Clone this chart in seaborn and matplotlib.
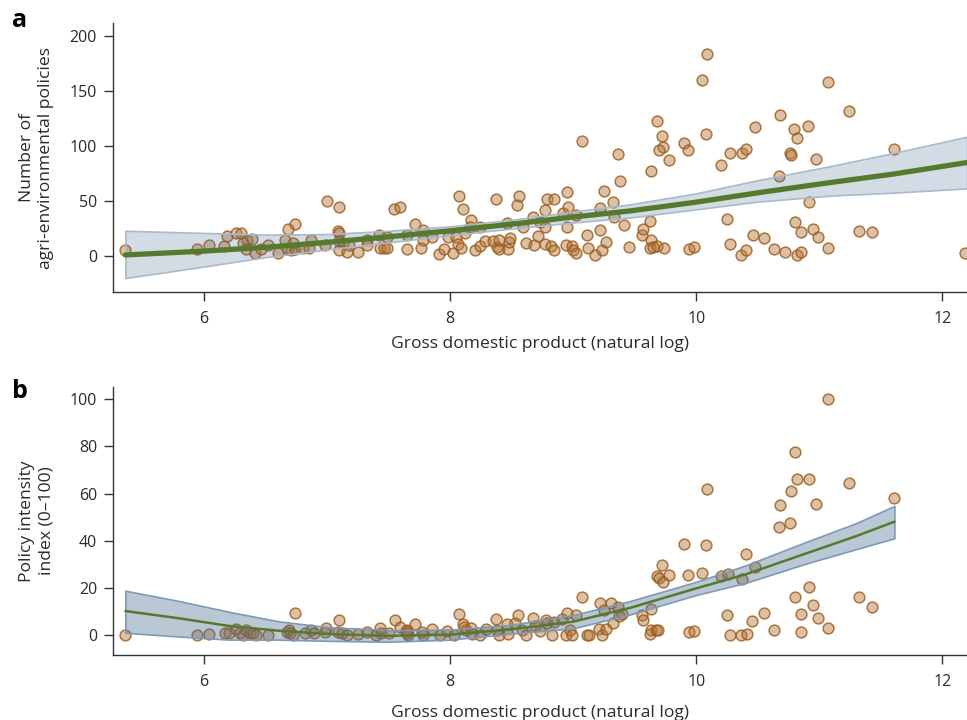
import numpy as np
import pandas as pd
import matplotlib
matplotlib.use("Agg")
import matplotlib.pyplot as plt
import seaborn as sns

# ---------------- data ----------------
a_gdp = [5.36, 5.94, 6.04, 6.16, 6.19, 6.26, 6.30, 6.32, 6.35, 6.39, 6.34, 6.41, 6.46, 6.52, 6.60,
         6.66, 6.68, 6.74, 6.68, 6.71, 6.72, 6.74, 6.80, 6.85, 6.87, 6.98, 7.00, 7.10, 7.09, 7.10,
         7.10, 7.13, 7.10, 7.16, 7.18, 7.25, 7.32, 7.32, 7.42, 7.43, 7.46, 7.49, 7.49, 7.54, 7.59,
         7.65, 7.65, 7.71, 7.76, 7.78, 7.78, 7.85, 7.91, 7.95, 7.98, 8.02, 8.05, 8.06, 8.07, 8.10,
         8.09, 8.12, 8.17, 8.16, 8.20, 8.24, 8.24, 8.28, 8.35, 8.37, 8.38, 8.40, 8.40, 8.46, 8.47,
         8.48, 8.49, 8.54, 8.56, 8.59, 8.62, 8.67, 8.68, 8.71, 8.73, 8.77, 8.77, 8.77, 8.79, 8.84,
         8.82, 8.84, 8.92, 8.95, 8.96, 8.95, 8.94, 8.99, 9.00, 9.02, 9.02, 9.07, 9.11, 9.12, 9.18,
         9.22, 9.22, 9.23, 9.25, 9.27, 9.32, 9.33, 9.36, 9.38, 9.41, 9.45, 9.56, 9.57, 9.62, 9.63,
         9.63, 9.62, 9.65, 9.68, 9.74, 9.68, 9.72, 9.73, 9.70, 9.78, 9.90, 9.93, 9.94, 9.98, 10.05,
         10.09, 10.08, 10.20, 10.27, 10.25, 10.27, 10.36, 10.37, 10.40, 10.40, 10.46, 10.48, 10.55,
         10.63, 10.67, 10.68, 10.72, 10.76, 10.77, 10.79, 10.80, 10.82, 10.82, 10.85, 10.85, 10.91,
         10.92, 10.95, 10.97, 10.99, 11.07, 11.07, 11.24, 11.32, 11.43, 11.61, 12.18]
a_policies = [5.5, 6, 10, 9, 18, 21, 21, 12, 14.5, 15.5, 6, 3, 6, 10, 3,
              14.5, 25, 29, 6, 5.5, 12, 6, 7, 7, 14.5, 10, 50, 44.5, 22.7, 21,
              13.6, 11.8, 5.5, 3.6, 10, 3.6, 15, 10, 19, 7, 7, 17, 7, 42.4, 44.5,
              19, 6, 29, 7.5, 24, 14.5, 17, 2, 6, 17, 2.7, 17, 11, 55, 42.4,
              7, 21, 33, 26, 5.5, 9, 26, 13.6, 13.6, 51.5, 8, 6, 14.5, 30, 6,
              13, 16.5, 46, 55, 26, 12, 35.5, 10, 18, 31, 42, 26, 11, 51.5, 51.5,
              9, 5.5, 39, 58, 44.5, 26, 10, 9, 5.5, 37, 2.7, 104.5, 19, 7, 1,
              43.6, 23.6, 5.5, 59, 13, 49, 35.5, 92.7, 68, 28, 8, 19, 25, 32, 77,
              15, 7, 8, 9, 7, 122.7, 109, 99, 96, 87, 102.5, 96, 6, 8, 160,
              184, 110.5, 82.5, 93.6, 33.6, 11, 1, 93.6, 97, 5.5, 19, 117, 16.5,
              6, 73, 128, 3.6, 93.6, 92, 115.5, 31, 1, 107, 3.6, 22, 118,
              49, 25, 88, 17, 158, 7, 132, 23, 22, 97, 3]

a_fit_x = [5.36, 6.0, 6.5, 7.0, 7.5, 8.0, 8.5, 9.0, 9.46, 10.0, 10.5, 11.1, 11.6, 12.2]
a_fit_y = [1, 4.5, 8, 12.5, 17.5, 23, 29, 35.5, 41, 49, 57.5, 67, 74.5, 85]
a_fit_lo = [-20, -9.5, -1, 6, 12.5, 19, 25, 30.5, 35, 42.5, 49.5, 55, 57.6, 61.5]
a_fit_hi = [23, 21, 19.5, 20, 23, 27, 33, 40.5, 47, 57, 69, 82, 93.6, 108.5]

b_gdp = [5.36, 5.94, 6.04, 6.17, 6.20, 6.26, 6.29, 6.32, 6.34, 6.37, 6.40, 6.42, 6.52, 6.67, 6.69,
         6.70, 6.74, 6.72, 6.82, 6.87, 6.89, 6.98, 6.99, 7.10, 7.09, 7.12, 7.16, 7.25, 7.32, 7.40,
         7.43, 7.44, 7.50, 7.55, 7.59, 7.64, 7.66, 7.65, 7.71, 7.65, 7.77, 7.78, 7.85, 7.92, 7.97,
         8.03, 8.07, 8.10, 8.11, 8.13, 8.17, 8.18, 8.24, 8.29, 8.37, 8.38, 8.40, 8.46, 8.47, 8.53,
         8.55, 8.58, 8.62, 8.67, 8.69, 8.73, 8.78, 8.79, 8.83, 8.84, 8.91, 8.95, 8.94, 8.97, 8.99,
         9.02, 9.07, 9.11, 9.13, 9.21, 9.22, 9.23, 9.25, 9.27, 9.31, 9.32, 9.36, 9.37, 9.40, 9.56,
         9.57, 9.63, 9.63, 9.62, 9.67, 9.69, 9.68, 9.70, 9.72, 9.73, 9.78, 9.90, 9.93, 9.94, 9.98,
         10.05, 10.08, 10.09, 10.20, 10.25, 10.26, 10.27, 10.36, 10.37, 10.40, 10.41, 10.45, 10.48,
         10.55, 10.63, 10.67, 10.68, 10.76, 10.77, 10.80, 10.80, 10.82, 10.85, 10.85, 10.92, 10.92,
         10.95, 10.97, 10.99, 11.07, 11.07, 11.24, 11.32, 11.43, 11.61]
b_intensity = [0, 0, 0.5, 1, 1, 2.6, 1, 0, 2.2, 1, 1, 0, 0, 1.4, 2.2,
               1, 9.4, 0, 1, 2.2, 1, 1.4, 3, 6.5, 1.4, 1, 0, 0.5, 1.4, 0,
               3, 1, 1, 6.5, 3.5, 1.8, 0, 2.2, 4.8, 1, 1.4, 0, 2.6, 0, 1.8,
               0, 9, 4.8, 3.5, 2.2, 3, 0.5, 0, 2.6, 7, 2.2, 0, 4.8, 0.5, 5.2,
               8.6, 2.2, 0, 7.3, 3.9, 1.8, 6.5, 5.2, 0, 5.6, 7, 9.4, 0, 2.2, 0,
               8.6, 16.2, 0, 0, 2.6, 13.7, 0, 10.7, 2.6, 13.7, 5.2, 12, 8.2, 9, 8.6,
               6.5, 11.2, 2.2, 0.5, 2.2, 2.2, 25.1, 24.3, 29.8, 22.6, 25.5, 38.7, 25.5, 1.4, 1.8,
               26.4, 38.3, 61.8, 25.1, 8.6, 26, 0, 0, 23.8, 34.4, 0.5, 6, 28.9,
               9.4, 2.2, 45.9, 55.2, 47.6, 61, 77.6, 16.2, 66.2, 1.4, 9, 66.2, 20.5,
               12.8, 55.6, 7.3, 3, 100, 64.5, 16.2, 12, 58.2]

b_fit_x = [5.36, 5.8, 6.2, 6.6, 7.0, 7.5, 8.0, 8.5, 9.0, 9.46, 10.0, 10.4, 10.9, 11.3, 11.61]
b_fit_y = [10.3, 7.2, 4.0, 2.0, 0.6, -0.2, 0.3, 2.6, 5.8, 11.6, 19.9, 25.8, 34.8, 42, 48.1]
b_fit_lo = [1.1, -0.5, -1.8, -1.8, -2.3, -2.7, -1.8, 0.8, 3.0, 8.8, 17.1, 22.2, 30.5, 36.5, 41.1]
b_fit_hi = [18.9, 14.5, 10.0, 6.0, 3.5, 2.2, 2.4, 4.5, 8.6, 14.5, 22.7, 29.6, 39.7, 47.5, 54.8]

x_ticks = [6, 8, 10, 12]
a_yticks = [0, 50, 100, 150, 200]
b_yticks = [0, 20, 40, 60, 80, 100]
x_label = "Gross domestic product (natural log)"
a_ylabel = "Number of\nagri-environmental policies"
b_ylabel = "Policy intensity\nindex (0\u2013100)"

# ---------------- style ----------------
sns.set_theme(style="ticks")
plt.rcParams["font.family"] = ["Open Sans", "DejaVu Sans"]

point_face = (181 / 255, 118 / 255, 58 / 255, 0.45)
point_edge = (155 / 255, 90 / 255, 25 / 255, 0.8)
green = "#557a2e"
band_rgb = (74 / 255, 111 / 255, 147 / 255)
ink = "#2a2a2a"

fig = plt.figure(figsize=(9.67, 7.2), dpi=100)
ax_a = fig.add_axes([0.1169, 0.5944, 0.8831, 0.3736])
ax_b = fig.add_axes([0.1169, 0.0903, 0.8831, 0.3722])


def draw(ax, xs, ys, fx, fy, flo, fhi, band_alpha, band_edge, lw):
    df = pd.DataFrame({"gdp": xs, "val": ys})
    sns.scatterplot(data=df, x="gdp", y="val", ax=ax, s=60, color=point_face,
                    edgecolor=point_edge, linewidth=1.1, zorder=2, legend=False)
    ax.fill_between(fx, flo, fhi, facecolor=(*band_rgb, band_alpha),
                    edgecolor=band_edge, linewidth=1.2, zorder=3)
    fit = pd.DataFrame({"gdp": fx, "val": fy})
    sns.lineplot(data=fit, x="gdp", y="val", ax=ax, color=green, linewidth=lw,
                 zorder=4, estimator=None, sort=False)
    ax.set_xlim(5.26, 12.2)
    ax.set_xticks(x_ticks)
    ax.set_xticklabels([str(t) for t in x_ticks])
    sns.despine(ax=ax)
    for s in ("left", "bottom"):
        ax.spines[s].set_color("#333333")
        ax.spines[s].set_linewidth(1.0)
    ax.tick_params(axis="both", direction="out", length=6.5, width=1.0,
                   color="#333333", labelsize=11.5, labelcolor=ink)
    ax.tick_params(axis="y", pad=5)
    ax.tick_params(axis="x", pad=7)


draw(ax_a, a_gdp, a_policies, a_fit_x, a_fit_y, a_fit_lo, a_fit_hi,
     0.24, "#a8bacb", 3.8)
ax_a.set_ylim(-32.7, 211.8)
ax_a.set_yticks(a_yticks)
ax_a.set_yticklabels([str(t) for t in a_yticks])

draw(ax_b, b_gdp, b_intensity, b_fit_x, b_fit_y, b_fit_lo, b_fit_hi,
     0.38, "#7d9ab5", 1.8)
ax_b.set_ylim(-8.3, 105.1)
ax_b.set_yticks(b_yticks)
ax_b.set_yticklabels([str(t) for t in b_yticks])

for ax, yl, xly in ((ax_a, a_ylabel, -0.162), (ax_b, b_ylabel, -0.185)):
    ax.set_xlabel(x_label, fontsize=12.6, color=ink)
    ax.set_ylabel(yl, fontsize=12.6, color=ink, linespacing=1.25)
    ax.yaxis.set_label_coords(-0.069, 0.5)
    ax.xaxis.set_label_coords(0.5, xly)
    ax.xaxis.label.set_va("top")

fig.text(0.0124, 1 - 27 / 720, "a", fontsize=18, fontweight="bold", color="black",
         ha="left", va="baseline")
fig.text(0.0124, 1 - 398 / 720, "b", fontsize=18, fontweight="bold", color="black",
         ha="left", va="baseline")

fig.savefig("out.png", dpi=100)
